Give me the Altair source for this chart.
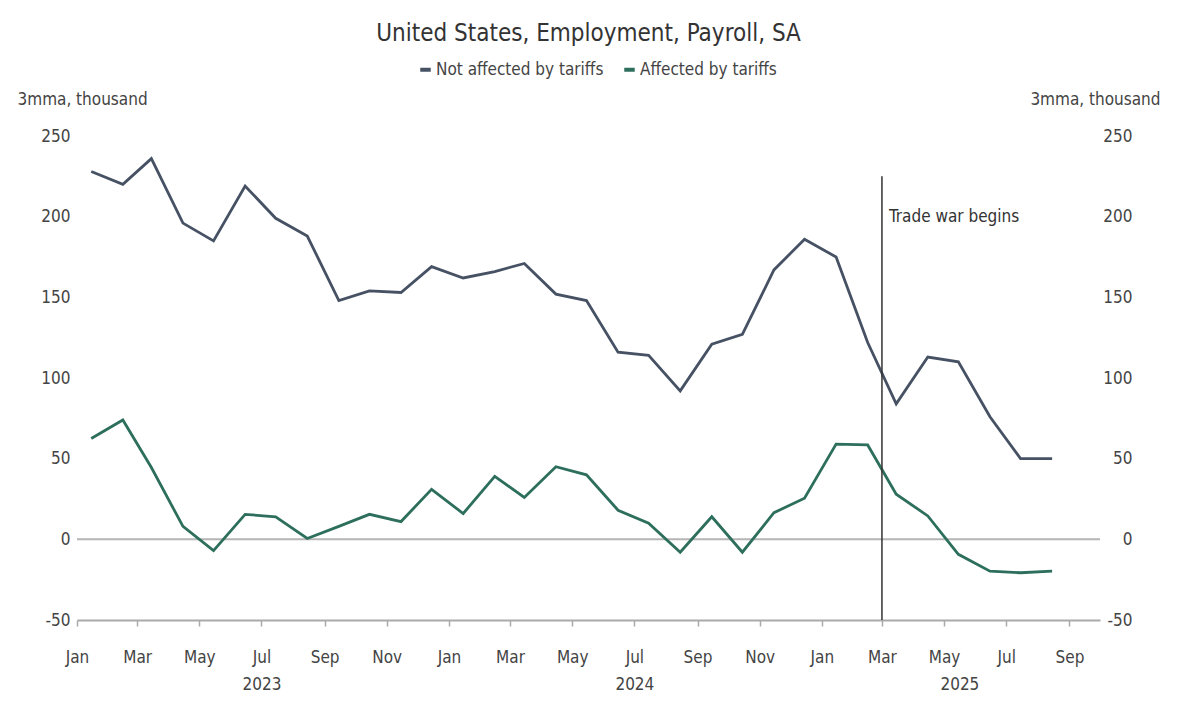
import altair as alt
import pandas as pd

months = pd.date_range("2023-01-01", periods=32, freq="MS") + pd.Timedelta(days=14)
not_affected = [228, 220, 236, 196, 185, 219, 199, 188, 148, 154, 153, 169,
                162, 166, 171, 152, 148, 116, 114, 92, 121, 127, 167, 186,
                175, 122, 84, 113, 110, 76, 50, 50]
affected = [62.5, 74, 44.5, 8, -7, 15.5, 14, 0.5, 8, 15.5, 11, 31,
            16, 39, 26, 45, 40, 18, 10, -8, 14, -8, 16.5, 25.5,
            59, 58.5, 28, 14.5, -9.3, -19.7, -20.7, -19.7]
series_names = ["Not affected by tariffs", "Affected by tariffs"]
series_colors = ["#465264", "#2d6f5c"]
month_ticks = pd.date_range("2023-01-01", "2025-09-01", freq="2MS")
year_labels = ["2023", "2024", "2025"]
year_positions = pd.to_datetime(["2023-07-01", "2024-07-01", "2025-05-16"])
event_date = pd.to_datetime(["2025-03-01"])
event_label = ["Trade war begins"]

FONT = "Liberation Sans Narrow, DejaVu Sans Condensed, Roboto, sans-serif"
FS = 17
TXT = "#444444"

df = pd.DataFrame({
    "date": list(months) * 2,
    "value": not_affected + affected,
    "series": [series_names[0]] * 32 + [series_names[1]] * 32,
})

xdom = [pd.Timestamp("2023-01-01").isoformat(), pd.Timestamp("2025-10-01").isoformat()]
xscale = alt.Scale(domain=xdom)
yscale = alt.Scale(domain=[-50, 250], nice=False)
yvals = [-50, 0, 50, 100, 150, 200, 250]

x_month = alt.X("date:T", scale=xscale, title=None,
                axis=alt.Axis(orient="bottom", values=[d.isoformat() for d in month_ticks],
                              format="%b", labelFont=FONT, labelFontSize=FS, labelColor=TXT,
                              domainColor="#aaaaaa", domainWidth=2, tickColor="#aaaaaa",
                              tickSize=6, tickWidth=1.5, labelPadding=23, grid=False,
                              labelFlush=False))

lines = alt.Chart(df).mark_line(strokeWidth=2.8).encode(
    x=x_month,
    y=alt.Y("value:Q", scale=yscale,
            axis=alt.Axis(values=yvals, title="3mma, thousand", labelExpr="'' + datum.value",
                          titleAngle=0, titleAlign="left", titleBaseline="middle",
                          titleX=-60, titleY=-37, titleFont=FONT, titleFontSize=FS,
                          titleFontWeight="normal", titleColor=TXT,
                          labelFont=FONT, labelFontSize=FS, labelColor=TXT,
                          domain=False, ticks=False, grid=False, labelPadding=7)),
    color=alt.Color("series:N", scale=alt.Scale(domain=series_names, range=series_colors),
                    legend=alt.Legend(orient="none", legendX=340, legendY=-75,
                                      direction="horizontal", title=None,
                                      symbolType="stroke", symbolStrokeWidth=4,
                                      symbolSize=110, labelFont=FONT, labelFontSize=FS,
                                      labelColor=TXT, columnPadding=12, labelLimit=0,
                                      symbolOffset=0, labelOffset=2)),
)

zero = alt.Chart(pd.DataFrame({"y": [0]})).mark_rule(color="#b5b5b5", strokeWidth=2).encode(
    y=alt.Y("y:Q", scale=yscale, axis=None))

ev = pd.DataFrame({"date": event_date, "top": [225], "bottom": [-50],
                   "label": event_label, "ly": [200]})
event_rule = alt.Chart(ev).mark_rule(color="#333333", strokeWidth=1.5).encode(
    x=alt.X("date:T", scale=xscale, axis=None),
    y=alt.Y("top:Q", scale=yscale, axis=None), y2="bottom:Q")
event_text = alt.Chart(ev).mark_text(align="left", dx=7, font=FONT, fontSize=FS,
                                     color="#333333").encode(
    x=alt.X("date:T", scale=xscale, axis=None),
    y=alt.Y("ly:Q", scale=yscale, axis=None), text="label:N")

years = alt.Chart(pd.DataFrame({"date": year_positions, "label": year_labels})).mark_point(
    opacity=0).encode(
    x=alt.X("date:T", scale=xscale, title=None,
            axis=alt.Axis(orient="bottom", values=[d.isoformat() for d in year_positions],
                          format="%Y", domain=False, ticks=False, grid=False,
                          labelPadding=56, labelFont=FONT, labelFontSize=FS,
                          labelColor=TXT)))

right = alt.Chart(df).mark_line(opacity=0).encode(
    x=alt.X("date:T", scale=xscale, axis=None),
    y=alt.Y("value:Q", scale=yscale,
            axis=alt.Axis(orient="right", values=yvals, labelExpr="'' + datum.value",
                          title="3mma, thousand", titleAngle=0, titleAlign="right",
                          titleBaseline="middle", titleX=60, titleY=-37, titleFont=FONT,
                          titleFontSize=FS, titleFontWeight="normal", titleColor=TXT,
                          labelFont=FONT, labelFontSize=FS, labelColor=TXT,
                          labelAlign="right", labelPadding=32,
                          domain=False, ticks=False, grid=False)),
)

chart = alt.layer(zero, lines, event_rule, event_text, years, right).resolve_scale(
    y="independent").resolve_axis(x="independent").properties(
    width=1023, height=484,
    autosize=alt.AutoSizeParams(type="none"),
    padding={"left": 69, "top": 128, "right": 70, "bottom": 80},
    title=alt.TitleParams("United States, Employment, Payroll, SA", font=FONT, fontSize=24,
                          fontWeight="normal", color="#333", anchor="middle", offset=15),
).configure_view(stroke=None)

chart.save("out.html", embed_options={"renderer": "svg", "actions": False})
